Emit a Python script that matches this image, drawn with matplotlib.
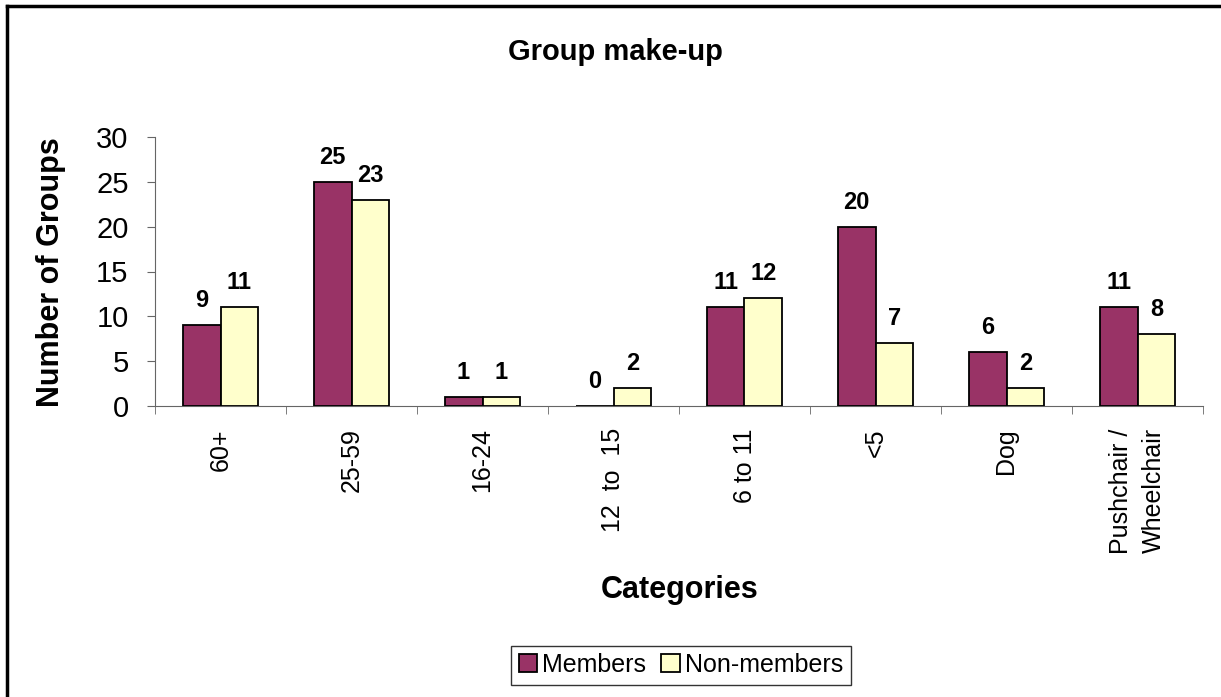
import numpy as np
import matplotlib.pyplot as plt
from matplotlib.lines import Line2D

# data
categories = ['60+', '25-59', '16-24', '12  to  15', '6 to 11', '<5', 'Dog', 'Pushchair /\nWheelchair']
members = [9, 25, 1, 0, 11, 20, 6, 11]
non_members = [11, 23, 1, 2, 12, 7, 2, 8]

plt.rcParams['font.family'] = ['Liberation Sans', 'DejaVu Sans']

W, H = 1221, 697
fig = plt.figure(figsize=(W / 100, H / 100), dpi=100)
ax = fig.add_axes([155 / W, 1 - 406 / H, (1203 - 155) / W, (406 - 137) / H])

x = np.arange(len(categories))
w = 0.29
ax.bar(x - w / 2, members, w, color='#993366', edgecolor='black', linewidth=1.3, label='Members', zorder=3)
ax.bar(x + w / 2, non_members, w, color='#FFFFCC', edgecolor='black', linewidth=1.3, label='Non-members', zorder=3)

# value labels above bars
for xs, vals in [(x - w / 2, members), (x + w / 2, non_members)]:
    for xi, v in zip(xs, vals):
        ax.annotate(str(v), (xi, v), xytext=(0, 13), textcoords='offset points',
                    ha='center', va='baseline', fontsize=17, fontweight='bold')

ax.set_xlim(-0.5, len(categories) - 0.5)
ax.set_ylim(0, 30)
ax.set_yticks(range(0, 31, 5))
ax.tick_params(axis='y', labelsize=21, length=6, pad=13, color='#666666')

ax.set_xticks(x)
ax.set_xticklabels(categories, rotation=90, fontsize=18, va='top', ha='center',
                   multialignment='right', linespacing=1.5)
ax.tick_params(axis='x', which='major', length=0, pad=16)
ax.set_xticks(np.arange(-0.5, len(categories), 1), minor=True)
ax.tick_params(axis='x', which='minor', length=6, color='#666666')

for s in ['top', 'right']:
    ax.spines[s].set_visible(False)
for s in ['left', 'bottom']:
    ax.spines[s].set_color('#666666')

fig.text(615 / W, 1 - 52 / H, 'Group make-up', ha='center', va='center', fontsize=21, fontweight='bold')
fig.text(51 / W, 1 - 272 / H, 'Number of Groups', rotation=90, ha='center', va='center',
         fontsize=22, fontweight='bold')
fig.text(680 / W, 1 - 590 / H, 'Categories', ha='center', va='center', fontsize=22, fontweight='bold')

leg = fig.legend(loc='center', bbox_to_anchor=(681 / W, 1 - 665 / H), ncol=2, fontsize=18,
                 frameon=True, fancybox=False, edgecolor='black', handlelength=0.75, handleheight=0.75,
                 handletextpad=0.2, columnspacing=0.6, borderpad=0.3)
leg.get_frame().set_linewidth(1.0)

# outer chart border (left and top only visible)
fig.add_artist(Line2D([7 / W, 7 / W], [0, 1 - 6 / H], transform=fig.transFigure, color='black', lw=2.5))
fig.add_artist(Line2D([7 / W, 1], [1 - 6 / H, 1 - 6 / H], transform=fig.transFigure, color='black', lw=2.5))

fig.savefig('out.png', dpi=100)
